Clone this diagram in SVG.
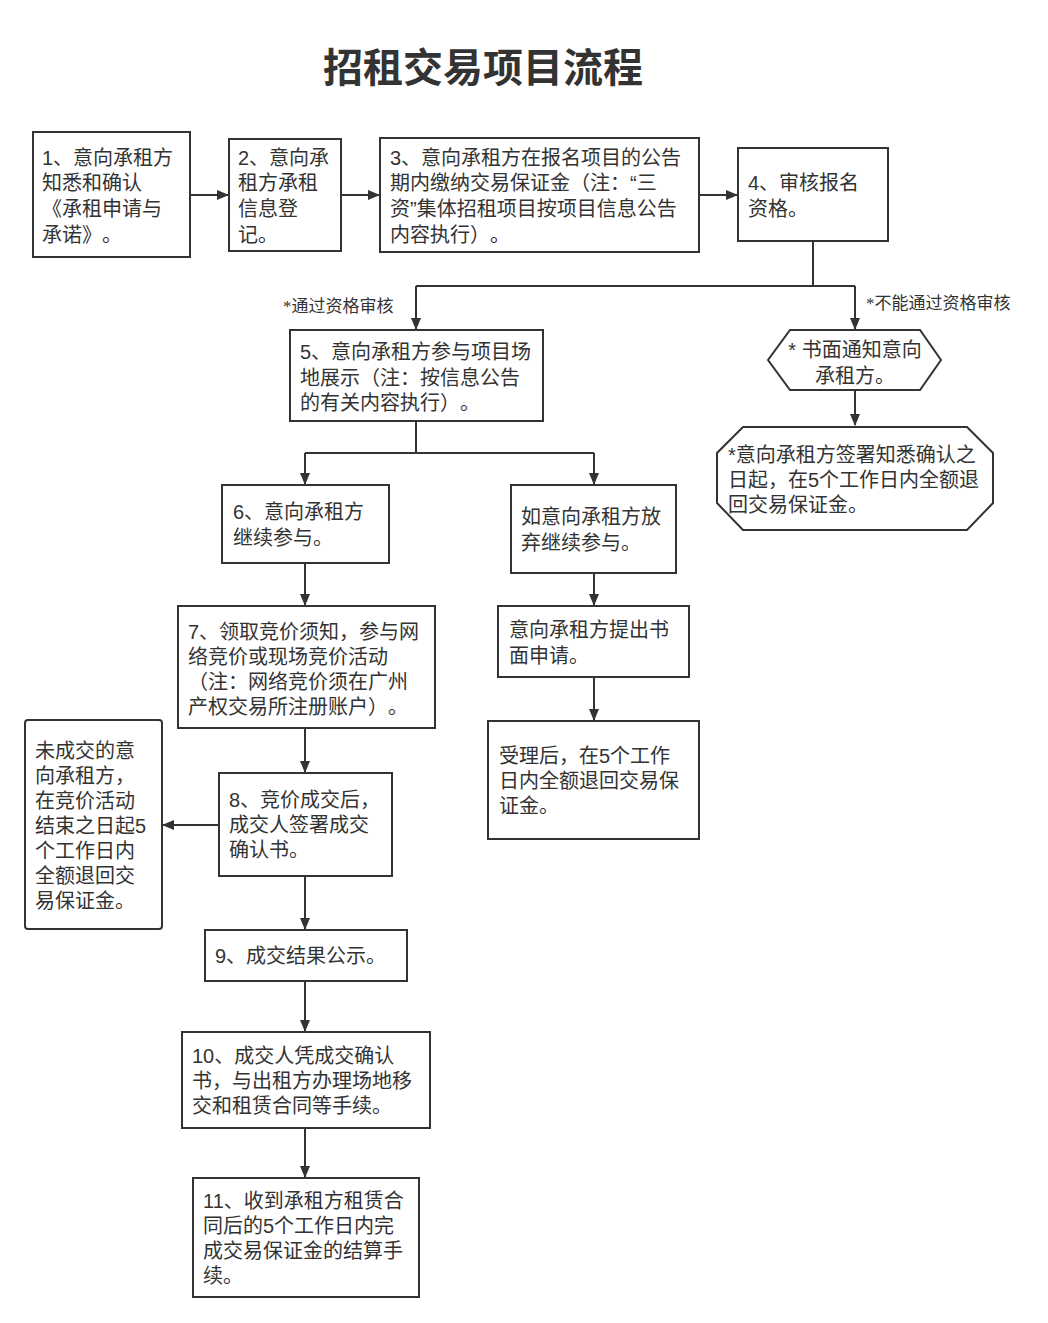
<svg xmlns="http://www.w3.org/2000/svg" width="1048" height="1323" viewBox="0 0 1048 1323">
<defs>
<marker id="arr" markerWidth="12" markerHeight="10" refX="11" refY="5" orient="auto" markerUnits="userSpaceOnUse">
<path d="M0,0 L12,5 L0,10 Z" fill="#333"/>
</marker>
<style>
.n{fill:#fff;stroke:#333;stroke-width:2}
.t{font-family:"Liberation Sans","Noto Sans CJK SC",sans-serif;font-size:20px;fill:#333;text-spacing-trim:space-all}
.l{font-family:"Liberation Serif","Noto Sans CJK SC",serif;font-size:17px;fill:#333}
.c{fill:none;stroke:#333;stroke-width:2}
.a{marker-end:url(#arr)}
</style>
</defs>
<rect width="1048" height="1323" fill="#fff"/>
<text x="483" y="82" text-anchor="middle" font-family="'Noto Sans CJK SC',sans-serif" font-size="40" font-weight="bold" fill="#333">招租交易项目流程</text>

<g id="connectors">
<path class="c a" d="M190,195 H228"/>
<path class="c a" d="M341,195 H379"/>
<path class="c a" d="M699,195 H737"/>
<path class="c" d="M813,241 V286"/>
<path class="c" d="M416,286 H855"/>
<path class="c a" d="M416,286 V329"/>
<path class="c a" d="M855,286 V329"/>
<path class="c a" d="M855,390 V425"/>
<path class="c" d="M416,421 V453 M305,453 H594"/>
<path class="c a" d="M305,453 V484"/>
<path class="c a" d="M594,453 V484"/>
<path class="c a" d="M305,563 V605"/>
<path class="c a" d="M594,573 V605"/>
<path class="c a" d="M594,677 V720"/>
<path class="c a" d="M305,728 V772"/>
<path class="c a" d="M219,825 H163"/>
<path class="c a" d="M305,876 V929"/>
<path class="c a" d="M305,981 V1031"/>
<path class="c a" d="M305,1128 V1177"/>
<text class="l" x="283" y="312">*通过资格审核</text>
<text class="l" x="866" y="309">*不能通过资格审核</text>
</g>

<g id="n1"><rect class="n" x="33" y="132" width="157" height="125"/>
<text class="t" x="42"><tspan x="42" y="165">1、意向承租方</tspan><tspan x="42" y="190">知悉和确认</tspan><tspan x="42" y="216">《承租申请与</tspan><tspan x="42" y="242">承诺》。</tspan></text></g>

<g id="n2"><rect class="n" x="229" y="139" width="112" height="112"/>
<text class="t"><tspan x="238" y="165">2、意向承</tspan><tspan x="238" y="190">租方承租</tspan><tspan x="238" y="216">信息登</tspan><tspan x="238" y="242">记。</tspan></text></g>

<g id="n3"><rect class="n" x="380" y="138" width="319" height="114"/>
<text class="t"><tspan x="390" y="165">3、意向承租方在报名项目的公告</tspan><tspan x="390" y="190">期内缴纳交易保证金（注：“三</tspan><tspan x="390" y="216">资”集体招租项目按项目信息公告</tspan><tspan x="390" y="242">内容执行）。</tspan></text></g>

<g id="n4"><rect class="n" x="738" y="148" width="150" height="93"/>
<text class="t"><tspan x="748" y="190">4、审核报名</tspan><tspan x="748" y="216">资格。</tspan></text></g>

<g id="n5"><rect class="n" x="290" y="330" width="253" height="91"/>
<text class="t"><tspan x="300" y="359">5、意向承租方参与项目场</tspan><tspan x="300" y="385">地展示（注：按信息公告</tspan><tspan x="300" y="410">的有关内容执行）。</tspan></text></g>

<g id="n5b"><path class="n" d="M790,330 H920 L941,360 L920,390 H790 L768,360 Z"/>
<text class="t" text-anchor="middle"><tspan x="855" y="357">* 书面通知意向</tspan><tspan x="855" y="383">承租方。</tspan></text></g>

<g id="n5c"><path class="n" d="M743,427 H967 L993,453 V503 L967,530 H743 L717,503 V453 Z"/>
<text class="t"><tspan x="728" y="462">*意向承租方签署知悉确认之</tspan><tspan x="728" y="487">日起，在5个工作日内全额退</tspan><tspan x="728" y="512">回交易保证金。</tspan></text></g>

<g id="n6"><rect class="n" x="222" y="485" width="167" height="78"/>
<text class="t"><tspan x="233" y="519">6、意向承租方</tspan><tspan x="233" y="545">继续参与。</tspan></text></g>

<g id="n6b"><rect class="n" x="511" y="485" width="165" height="88"/>
<text class="t"><tspan x="521" y="524">如意向承租方放</tspan><tspan x="521" y="550">弃继续参与。</tspan></text></g>

<g id="n7"><rect class="n" x="178" y="606" width="257" height="122"/>
<text class="t"><tspan x="188" y="639">7、领取竞价须知，参与网</tspan><tspan x="188" y="664">络竞价或现场竞价活动</tspan><tspan x="188" y="689">（注：网络竞价须在广州</tspan><tspan x="188" y="714">产权交易所注册账户）。</tspan></text></g>

<g id="n7b"><rect class="n" x="498" y="606" width="191" height="71"/>
<text class="t"><tspan x="509" y="637">意向承租方提出书</tspan><tspan x="509" y="663">面申请。</tspan></text></g>

<g id="n8b"><rect class="n" x="488" y="721" width="211" height="118"/>
<text class="t"><tspan x="499" y="763">受理后，在5个工作</tspan><tspan x="499" y="788">日内全额退回交易保</tspan><tspan x="499" y="813">证金。</tspan></text></g>

<g id="n8"><rect class="n" x="219" y="773" width="173" height="103"/>
<text class="t"><tspan x="229" y="807">8、竞价成交后，</tspan><tspan x="229" y="832">成交人签署成交</tspan><tspan x="229" y="857">确认书。</tspan></text></g>

<g id="n8c"><rect class="n" x="25" y="720" width="137" height="209" rx="3"/>
<text class="t"><tspan x="35" y="758">未成交的意</tspan><tspan x="35" y="783">向承租方，</tspan><tspan x="35" y="808">在竞价活动</tspan><tspan x="35" y="833">结束之日起5</tspan><tspan x="35" y="858">个工作日内</tspan><tspan x="35" y="883">全额退回交</tspan><tspan x="35" y="908">易保证金。</tspan></text></g>

<g id="n9"><rect class="n" x="205" y="930" width="202" height="51"/>
<text class="t"><tspan x="215" y="963">9、成交结果公示。</tspan></text></g>

<g id="n10"><rect class="n" x="182" y="1032" width="248" height="96"/>
<text class="t"><tspan x="192" y="1063">10、成交人凭成交确认</tspan><tspan x="192" y="1088">书，与出租方办理场地移</tspan><tspan x="192" y="1113">交和租赁合同等手续。</tspan></text></g>

<g id="n11"><rect class="n" x="193" y="1178" width="226" height="119"/>
<text class="t"><tspan x="203" y="1208">11、收到承租方租赁合</tspan><tspan x="203" y="1233">同后的5个工作日内完</tspan><tspan x="203" y="1258">成交易保证金的结算手</tspan><tspan x="203" y="1283">续。</tspan></text></g>
</svg>
